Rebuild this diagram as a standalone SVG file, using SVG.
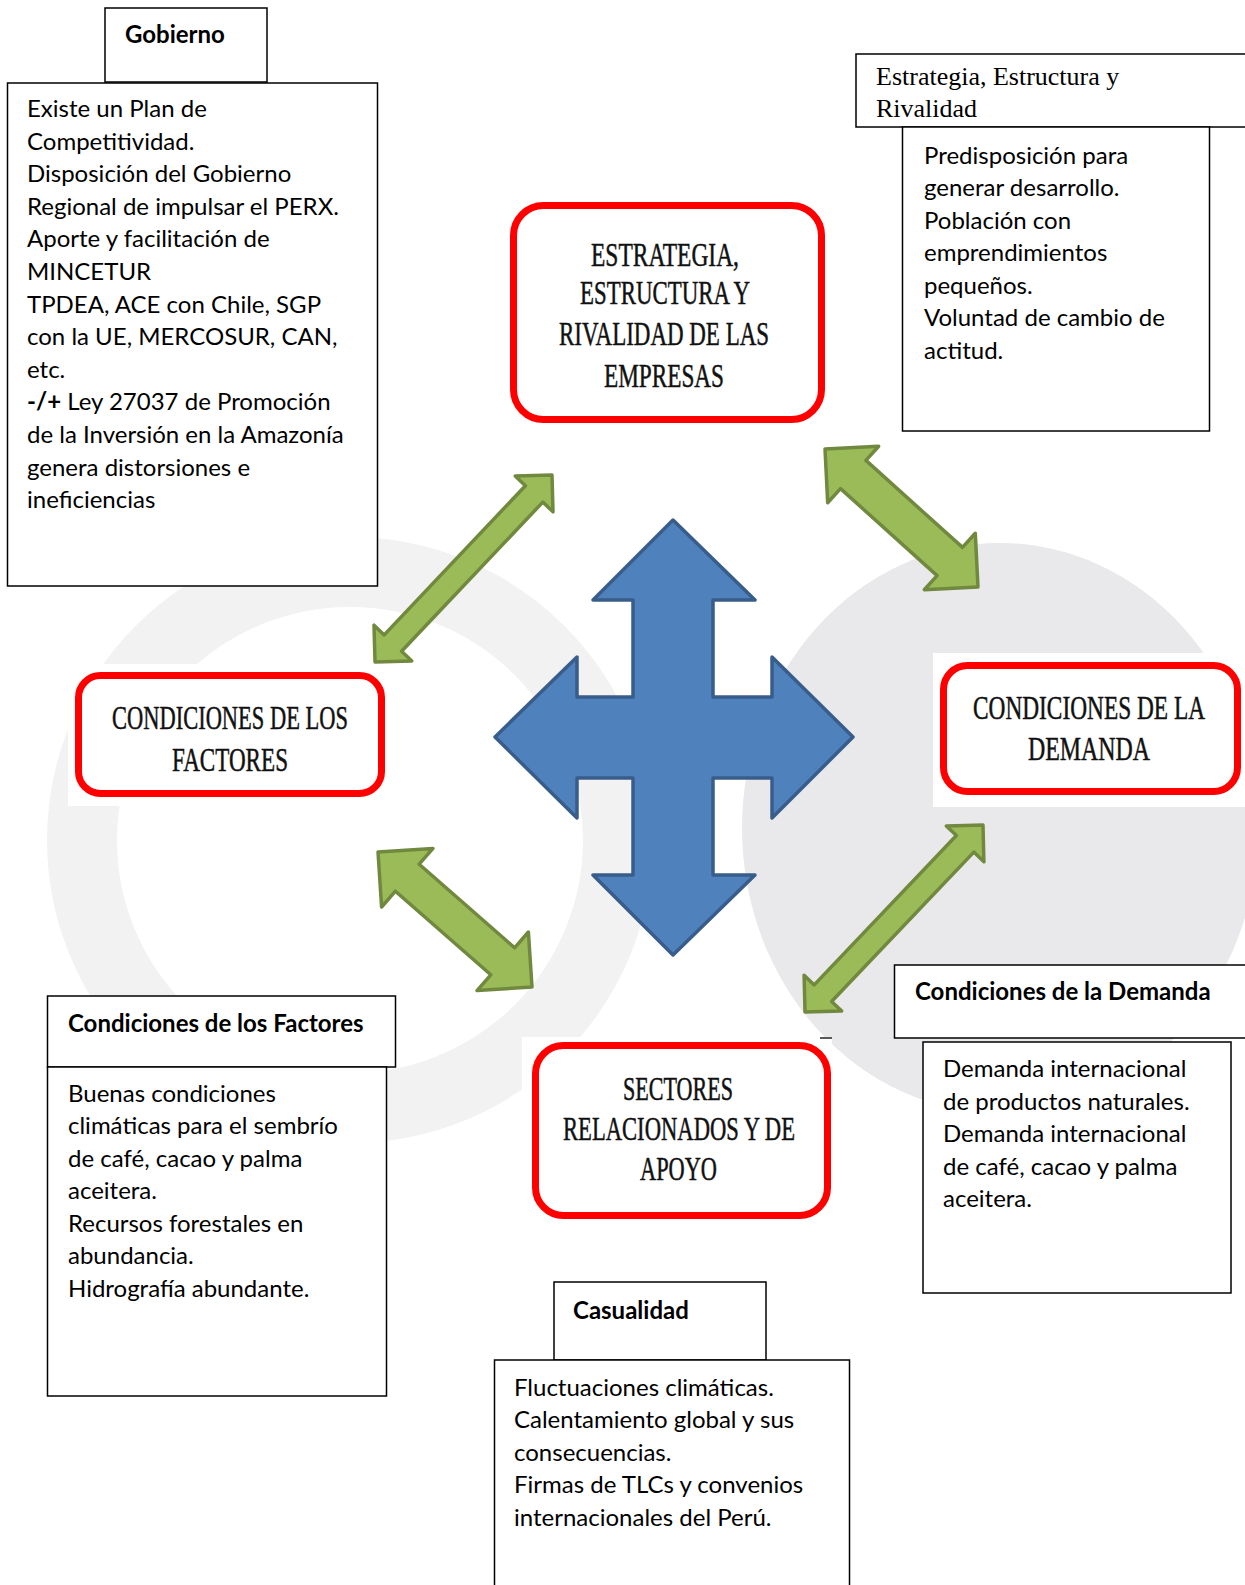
<svg xmlns="http://www.w3.org/2000/svg" width="1245" height="1585" viewBox="0 0 1245 1585">
<style>
.box{fill:#fff;stroke:#000;stroke-width:1.5}
.red{fill:#fff;stroke:#ff0000;stroke-width:7}
.body{font-family:Lato,"Open Sans",sans-serif;font-size:24px;fill:#000}
.bold{font-family:Lato,"Open Sans",sans-serif;font-size:24px;font-weight:bold;fill:#000}
.serif{font-family:"Liberation Serif",serif;font-size:26px;fill:#000}
.cap{font-family:"Liberation Serif",serif;font-size:33px;fill:#111;stroke:#111;stroke-width:0.5}
.grn{fill:#9bbb59;stroke:#71893f;stroke-width:3.5;stroke-linejoin:round}
.blue{fill:#4f81bd;stroke:#385d8a;stroke-width:3.5;stroke-linejoin:round}
</style>
<rect width="1245" height="1585" fill="#fff"/>
<g id="watermark">
<ellipse cx="1000" cy="828" rx="258" ry="285" fill="#e9e9eb"/>
<circle cx="350" cy="840" r="268" fill="none" stroke="#f2f2f2" stroke-width="70"/>
</g>
<g id="connectors">
<path class="blue" d="M673,520 L755,600 L713,600 L713,697 L772,697 L772,657 L853,737 L772,818 L772,778 L713,778 L713,875 L755,875 L673,955 L593,875 L633,875 L633,778 L577,778 L577,818 L495,737 L577,657 L577,697 L633,697 L633,600 L593,600 Z"/>
<path class="grn" d="M375,662 L411.8,661 L401.6,651.3 L542.8,502.1 L553,511.8 L552,475 L515.2,476 L525.4,485.7 L384.2,634.9 L374,625.2 Z"/>
<path class="grn" d="M825,449 L878.7,446.3 L865.9,460.4 L962.5,547.4 L975.3,533.3 L978,587 L924.3,589.7 L937.1,575.6 L840.5,488.6 L827.7,502.7 Z"/>
<path class="grn" d="M378,852 L433,848.4 L419.2,864.2 L514.6,947.8 L528.4,932 L532,987 L477,990.6 L490.8,974.8 L395.4,891.2 L381.6,907 Z"/>
<path class="grn" d="M805,1012 L841.7,1011.1 L831.6,1001.5 L973.8,852.1 L983.9,861.7 L983,825 L946.3,825.9 L956.4,835.5 L814.2,984.9 L804.1,975.3 Z"/>
</g>
<g id="gobierno">
<rect class="box" x="105" y="8" width="162" height="74"/>
<text class="bold" x="125" y="43">Gobierno</text>
<rect class="box" x="7.5" y="83" width="370" height="503"/>
<text class="body">
<tspan x="27" y="117">Existe un Plan de</tspan>
<tspan x="27" y="149.6">Competitividad.</tspan>
<tspan x="27" y="182.2">Disposición del Gobierno</tspan>
<tspan x="27" y="214.8">Regional de impulsar el PERX.</tspan>
<tspan x="27" y="247.4">Aporte y facilitación de</tspan>
<tspan x="27" y="280">MINCETUR</tspan>
<tspan x="27" y="312.6">TPDEA, ACE con Chile, SGP</tspan>
<tspan x="27" y="345.2">con la UE, MERCOSUR, CAN,</tspan>
<tspan x="27" y="377.8">etc.</tspan>
<tspan x="27" y="410.4"><tspan font-weight="bold">-/+</tspan> Ley 27037 de Promoción</tspan>
<tspan x="27" y="443">de la Inversión en la Amazonía</tspan>
<tspan x="27" y="475.6">genera distorsiones e</tspan>
<tspan x="27" y="508.2">ineficiencias</tspan>
</text>
</g>
<g id="estrategia-info">
<rect class="box" x="856" y="54" width="400" height="73"/>
<text class="serif"><tspan x="876" y="85">Estrategia, Estructura y</tspan><tspan x="876" y="117">Rivalidad</tspan></text>
<rect class="box" x="902.5" y="127" width="307" height="304"/>
<text class="body">
<tspan x="924" y="163.6">Predisposición para</tspan>
<tspan x="924" y="196.1">generar desarrollo.</tspan>
<tspan x="924" y="228.6">Población con</tspan>
<tspan x="924" y="261.1">emprendimientos</tspan>
<tspan x="924" y="293.6">pequeños.</tspan>
<tspan x="924" y="326.1">Voluntad de cambio de</tspan>
<tspan x="924" y="358.6">actitud.</tspan>
</text>
</g>
<g id="estrategia">
<rect x="500" y="195" width="335" height="236" fill="#fff"/>
<rect class="red" x="513.5" y="205.5" width="308" height="214" rx="30"/>
<text class="cap" font-size="36" transform="translate(591,266) scale(0.7,1)" textLength="211.4" lengthAdjust="spacingAndGlyphs">ESTRATEGIA,</text>
<text class="cap" font-size="36" transform="translate(580,304) scale(0.7,1)" textLength="242.9" lengthAdjust="spacingAndGlyphs">ESTRUCTURA Y</text>
<text class="cap" font-size="36" transform="translate(559,345) scale(0.7,1)" textLength="300" lengthAdjust="spacingAndGlyphs">RIVALIDAD DE LAS</text>
<text class="cap" font-size="36" transform="translate(604,387) scale(0.7,1)" textLength="171.4" lengthAdjust="spacingAndGlyphs">EMPRESAS</text>
</g>
<g id="factores">
<rect x="68" y="664" width="324" height="142" fill="#fff"/>
<rect class="red" x="78.5" y="675.5" width="303" height="118" rx="22"/>
<text class="cap" transform="translate(112,729) scale(0.7,1)" textLength="337.1" lengthAdjust="spacingAndGlyphs">CONDICIONES DE LOS</text>
<text class="cap" transform="translate(172,771) scale(0.7,1)" textLength="165.7" lengthAdjust="spacingAndGlyphs">FACTORES</text>
</g>
<g id="demanda">
<rect x="933" y="653" width="312" height="154" fill="#fff"/>
<rect class="red" x="943.5" y="665.5" width="294" height="126" rx="24"/>
<text class="cap" transform="translate(973,719) scale(0.7,1)" textLength="331.4" lengthAdjust="spacingAndGlyphs">CONDICIONES DE LA</text>
<text class="cap" transform="translate(1028,760) scale(0.7,1)" textLength="174.3" lengthAdjust="spacingAndGlyphs">DEMANDA</text>
</g>
<g id="sectores">
<rect x="522" y="1037" width="310" height="188" fill="#fff"/>
<line x1="820" y1="1038" x2="832" y2="1038" stroke="#222" stroke-width="1.5"/>
<rect class="red" x="535.5" y="1045.5" width="292" height="170" rx="28"/>
<text class="cap" transform="translate(623,1100) scale(0.7,1)" textLength="157.1" lengthAdjust="spacingAndGlyphs">SECTORES</text>
<text class="cap" transform="translate(563,1140) scale(0.7,1)" textLength="331.4" lengthAdjust="spacingAndGlyphs">RELACIONADOS Y DE</text>
<text class="cap" transform="translate(640,1180) scale(0.7,1)" textLength="110" lengthAdjust="spacingAndGlyphs">APOYO</text>
</g>
<g id="factores-info">
<rect class="box" x="47.5" y="996" width="348" height="71"/>
<text class="bold" x="68" y="1032">Condiciones de los Factores</text>
<rect class="box" x="47.5" y="1067" width="339" height="329"/>
<text class="body">
<tspan x="68" y="1101.5">Buenas condiciones</tspan>
<tspan x="68" y="1134">climáticas para el sembrío</tspan>
<tspan x="68" y="1166.5">de café, cacao y palma</tspan>
<tspan x="68" y="1199">aceitera.</tspan>
<tspan x="68" y="1231.5">Recursos forestales en</tspan>
<tspan x="68" y="1264">abundancia.</tspan>
<tspan x="68" y="1296.5">Hidrografía abundante.</tspan>
</text>
</g>
<g id="demanda-info">
<rect class="box" x="894.5" y="965" width="360" height="73"/>
<text class="bold" x="915" y="999.5">Condiciones de la Demanda</text>
<rect class="box" x="923" y="1042" width="308" height="251"/>
<text class="body">
<tspan x="943" y="1077">Demanda internacional</tspan>
<tspan x="943" y="1109.5">de productos naturales.</tspan>
<tspan x="943" y="1142">Demanda internacional</tspan>
<tspan x="943" y="1174.5">de café, cacao y palma</tspan>
<tspan x="943" y="1207">aceitera.</tspan>
</text>
</g>
<g id="casualidad">
<rect class="box" x="554" y="1282" width="212" height="78"/>
<text class="bold" x="573" y="1319">Casualidad</text>
<rect class="box" x="494.5" y="1360" width="355" height="240"/>
<text class="body">
<tspan x="514" y="1395.5">Fluctuaciones climáticas.</tspan>
<tspan x="514" y="1428">Calentamiento global y sus</tspan>
<tspan x="514" y="1460.5">consecuencias.</tspan>
<tspan x="514" y="1493">Firmas de TLCs y convenios</tspan>
<tspan x="514" y="1525.5">internacionales del Perú.</tspan>
</text>
</g>
</svg>
